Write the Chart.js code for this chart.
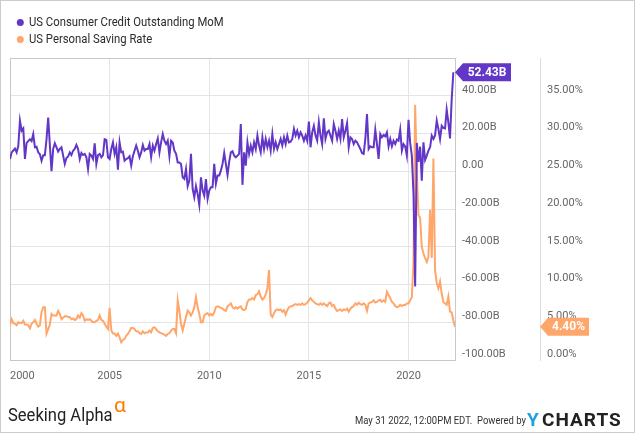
<!DOCTYPE html>
<html>
<head>
<meta charset="utf-8">
<title>US Consumer Credit Outstanding MoM vs US Personal Saving Rate</title>
<script src="https://cdn.jsdelivr.net/npm/chart.js@4.4.1/dist/chart.umd.min.js"></script>
<style>
  html, body { margin: 0; padding: 0; background: #fff; }
  #chart { display: block; }
</style>
</head>
<body>
<canvas id="chart" width="635" height="433"></canvas>
<script>
// ============================================
// DATA (monthly, first value is the Dec 1999 month-end)
// ============================================

const START_YEAR = 2000;
const yearTicks = [2000, 2005, 2010, 2015, 2020];

// Month-over-month change in consumer credit outstanding, billions USD
const creditMoM = [
    6.5,
    10, 11, 12, 10, 13.5, 26.8, 21.5, 22.7, 6.5, 15, 16, 17,                 // 2000
    16, 19.7, 12.7, 13, 10, 9, 5.6, 8.5, 8.5, 17, 28.5, 14,                   // 2001
    0, 11.8, 14.8, 12.7, 10.4, 11.8, 12.7, 8.3, 3.9, 7, 7.9, 10,              // 2002
    8.6, 10.9, 11.8, 14, 11.8, 6.5, 9.7, 8.6, 9.2, 7.4, 1.2, 9.2,             // 2003
    8.3, 6.5, 14.8, 3.9, 8.6, 9.2, 7.4, 8.6, 17, 16.6, 7.4, 6.5,              // 2004
    11.8, 15.3, 9.2, 12.7, 0.8, 15.3, 10, 10.4, 5.6, 6.5, 6.9, 7.9,           // 2005
    3, 7.9, 10.9, 13.6, 10.9, 7.4, 10, 13.9, 10.9, 11.8, 11.8, 14.4,          // 2006
    7.4, 13.6, 10.9, 14.4, 17.4, 10, 15.3, 19.7, 16.2, 14.4, 16.2, 7.9,       // 2007
    16.2, 15.3, 10.9, 9.2, 4.7, 4.7, 3.9, -3.2, -4.1, 1.2, -7.9, -5,          // 2008
    9.2, -9.3, -13.7, -7.9, -12, -17.8, -3.2, -10.2, -12.9, -4.1, -14.6, -10.2, // 2009
    -8.5, -8.5, 3.9, -6.7, -2.3, -2.3, 0.3, 3.9, 9.7, 3.9, -2, 5,             // 2010
    10, 10.6, 8.3, 7.4, 8.3, 9.2, 25, -7.2, 10, 3, 15.3, 9.2,                 // 2011
    13.6, 10, 15.3, 11.8, 18.9, 13.6, 10, 18, 11.8, 17.1, 12.7, 16.2,         // 2012
    10.9, 19.7, 11.8, 15.3, 11.8, 14.4, 17.1, 13.6, 18, 14.4, 18.9, 15.3,     // 2013
    15.7, 17.1, 22.4, 18.9, 21.5, 18, 20.6, 18.9, 16.2, 18.9, 16.2, 26.3,     // 2014
    12.7, 20.6, 24.1, 18.9, 16.2, 26, 18.9, 14.4, 28, 17.1, 20.6, 21.5,       // 2015
    18.9, 16.2, 25, 21.5, 17.1, 21.5, 17.1, 27.7, 18, 21.5, 25.5, 12.7,       // 2016
    18, 17.1, 14.4, 16.2, 15.3, 13.6, 11.8, 9.7, 9.2, 17.1, 30.3, 11.8,       // 2017
    13.2, 12.7, 12.7, 22, 14.4, 6.5, 19.7, 18, 19.2, 18.5, 20.6, 13.2,        // 2018
    17.1, 13.2, 16.2, 14.4, 16.8, 16.2, 22, 10.9, 14.4, 13.2, 8.3, 27.3,      // 2019
    15, 8.3, -12, -61, 15, 5, 13, -5, 15.3, 6, 8.3, 10.9,                     // 2020
    12.7, 18.9, 17.1, 19, 26.8, 22.4, 17.1, 24.1, 23, 22.7, 32.6, 25.9,       // 2021
    17.4, 38, 52.43                                                          // 2022
];

// Personal saving rate, percent
const savingRate = [
    4.6,
    5.4, 4.9, 4.8, 4.6, 5.0, 4.9, 4.9, 5.2, 4.7, 4.7, 4.6, 4.2,               // 2000
    4.8, 5.0, 5.3, 4.8, 4.4, 4.6, 6.3, 7.0, 7.0, 3.5, 4.1, 4.7,               // 2001
    6.1, 5.9, 5.9, 5.9, 6.5, 6.1, 5.4, 5.6, 5.8, 5.8, 5.7, 5.7,               // 2002
    5.4, 5.5, 5.3, 5.4, 5.9, 5.6, 6.2, 5.9, 5.2, 5.4, 5.3, 5.4,               // 2003
    5.2, 5.0, 5.0, 5.2, 5.3, 5.9, 5.3, 5.2, 4.8, 4.4, 4.1, 6.9,               // 2004
    3.9, 3.5, 3.5, 3.2, 3.5, 3.0, 2.35, 2.65, 2.8, 3.2, 3.45, 3.8,            // 2005
    4.25, 4.25, 4.1, 3.8, 3.8, 3.55, 3.45, 3.8, 3.55, 3.65, 3.65, 3.9,        // 2006
    3.65, 4.25, 4.35, 4.1, 3.8, 3.65, 3.55, 3.45, 3.35, 3.2, 3.45, 3.55,      // 2007
    3.9, 4.1, 4.1, 3.55, 7.9, 6.5, 4.8, 3.9, 4.8, 5.7, 6.55, 6.3,             // 2008
    5.9, 6.3, 7.0, 8.3, 7.0, 6.1, 5.0, 5.0, 5.9, 6.1, 6.2, 5.9,               // 2009
    6.1, 5.9, 6.3, 7.0, 7.1, 7.0, 6.9, 6.8, 6.6, 6.5, 7.1, 7.3,               // 2010
    7.5, 7.0, 6.8, 7.0, 6.8, 7.0, 7.1, 6.7, 6.6, 6.8, 7.7, 8.0,               // 2011
    8.0, 8.2, 8.0, 8.6, 8.7, 9.1, 8.4, 8.0, 8.2, 8.7, 9.5, 11.9,              // 2012
    6.0, 5.7, 6.2, 6.6, 6.7, 6.6, 6.7, 6.4, 6.6, 6.0, 6.6, 7.0,               // 2013
    7.1, 7.15, 7.3, 7.4, 7.3, 7.4, 7.3, 7.5, 7.3, 7.4, 7.6, 7.9,              // 2014
    8.2, 7.9, 7.7, 7.5, 7.4, 7.3, 7.5, 7.3, 7.5, 7.3, 7.15, 7.5,              // 2015
    7.6, 7.15, 7.3, 6.8, 6.5, 6.6, 6.7, 6.5, 6.7, 6.6, 6.8, 6.4,              // 2016
    6.8, 7.0, 7.15, 7.5, 7.3, 7.6, 7.4, 7.3, 7.5, 7.3, 6.5, 7.5,              // 2017
    7.6, 7.7, 7.9, 7.6, 7.7, 7.9, 7.95, 7.7, 7.9, 7.7, 9.05, 8.6,             // 2018
    8.2, 7.7, 7.5, 7.15, 7.0, 7.06, 7.3, 7.15, 7.3, 7.3, 7.5, 7.5,            // 2019
    7.9, 8.3, 12.8, 33.8, 24.9, 19.2, 18.8, 15, 14.1, 13.5, 13, 13.7,         // 2020
    19.9, 13.5, 26.7, 11.9, 10.2, 9.5, 10.4, 8.8, 7.7, 7.5, 7.3, 8.4,         // 2021
    6.4, 6.3, 5.3, 4.4                                                       // 2022
];

const seriesNames = ['US Consumer Credit Outstanding MoM', 'US Personal Saving Rate'];
const seriesColors = ['#6236c6', '#ffa66b'];

// ============================================
// HELPERS
// ============================================

const FONT = 'Roboto, "Liberation Sans", sans-serif';
const lastX = START_YEAR + (savingRate.length - 1) / 12;

function toPoints(values) {
    return values.map((v, i) => ({ x: START_YEAR + i / 12, y: v }));
}

function formatBillions(v) {
    if (v === 60) return '';
    if (v === 0) return '0.00';
    return v.toFixed(2) + 'B';
}

// Text squeezed horizontally to imitate the condensed face of the original
function drawText(ctx, text, x, y, font, color, scaleX, align) {
    ctx.save();
    ctx.translate(x, y);
    ctx.scale(scaleX, 1);
    ctx.font = font;
    ctx.fillStyle = color;
    ctx.textAlign = align || 'left';
    ctx.fillText(text, 0, 0);
    ctx.restore();
}

function drawTag(ctx, tipX, y, width, color, text) {
    const h = 18, arrow = 8;
    ctx.save();
    ctx.fillStyle = color;
    ctx.beginPath();
    ctx.moveTo(tipX, y);
    ctx.lineTo(tipX + arrow, y - h / 2);
    ctx.lineTo(tipX + width, y - h / 2);
    ctx.lineTo(tipX + width, y + h / 2);
    ctx.lineTo(tipX + arrow, y + h / 2);
    ctx.closePath();
    ctx.fill();
    ctx.fillStyle = '#ffffff';
    ctx.font = 'bold 12px ' + FONT;
    ctx.textAlign = 'center';
    ctx.textBaseline = 'middle';
    ctx.fillText(text, tipX + arrow + (width - arrow) / 2, y + 0.5);
    ctx.restore();
}

// ============================================
// PLUGINS
// ============================================

// Outer border, plot frame, legend, value tags and footer
const decorPlugin = {
    id: 'decor',
    beforeDatasetsDraw(chart) {
        const { ctx, chartArea: a } = chart;
        ctx.save();
        ctx.strokeStyle = '#c8c8c8';
        ctx.lineWidth = 1;
        ctx.strokeRect(Math.round(a.left) + 0.5, Math.round(a.top) + 0.5,
            Math.round(a.right - a.left), Math.round(a.bottom - a.top));
        ctx.restore();
    },
    afterDatasetsDraw(chart) {
        const { ctx, chartArea: a, scales } = chart;
        const lastCredit = creditMoM[creditMoM.length - 1];
        const lastSaving = savingRate[savingRate.length - 1];
        drawTag(ctx, a.right, scales.yB.getPixelForValue(lastCredit), 56,
            seriesColors[0], lastCredit.toFixed(2) + 'B');
        drawTag(ctx, scales.yP.left, scales.yP.getPixelForValue(lastSaving), 49,
            seriesColors[1], lastSaving.toFixed(2) + '%');
    },
    afterDraw(chart) {
        const { ctx, width, height } = chart;
        ctx.save();
        ctx.strokeStyle = '#cccccc';
        ctx.strokeRect(0.5, 0.5, width - 1, height - 1);

        // legend
        ctx.textBaseline = 'middle';
        seriesNames.forEach((name, i) => {
            const y = 22.5 + i * 17;
            ctx.fillStyle = seriesColors[i];
            ctx.beginPath();
            ctx.arc(20.3, y, 3.5, 0, Math.PI * 2);
            ctx.fill();
            drawText(ctx, name, 29, y + 0.5, '13px ' + FONT, '#2b2b2b', 0.87);
        });

        // footer
        ctx.textBaseline = 'alphabetic';
        drawText(ctx, 'Seeking Alpha', 8, 421, '18px ' + FONT, '#222222', 0.92);
        drawText(ctx, '\u03B1', 114, 412, '21px ' + FONT, '#ff7a00', 1);
        drawText(ctx, 'May 31 2022, 12:00PM EDT.  Powered by', 526, 423.5,
            '11px ' + FONT, '#333333', 0.86, 'right');

        ctx.font = 'bold 19px ' + FONT;
        ctx.textAlign = 'left';
        ctx.fillStyle = '#1e9fe0';
        ctx.fillText('Y', 527, 426);
        ctx.fillStyle = '#222222';
        if ('letterSpacing' in ctx) ctx.letterSpacing = '1px';
        ctx.fillText('CHARTS', 542, 426);
        ctx.restore();
    }
};

// ============================================
// CHART
// ============================================

const tickFont = { family: FONT, size: 11 };
const gridColor = '#e4e4e4';

new Chart(document.getElementById('chart'), {
    type: 'line',
    data: {
        datasets: [
            {
                label: seriesNames[0],
                data: toPoints(creditMoM),
                yAxisID: 'yB',
                borderColor: seriesColors[0],
                borderWidth: 2,
                pointRadius: 0,
                tension: 0
            },
            {
                label: seriesNames[1],
                data: toPoints(savingRate),
                yAxisID: 'yP',
                borderColor: seriesColors[1],
                borderWidth: 2,
                pointRadius: 0,
                tension: 0
            }
        ]
    },
    options: {
        responsive: false,
        animation: false,
        devicePixelRatio: 1,
        layout: { padding: { left: 10, right: 10, top: 58, bottom: 0 } },
        plugins: {
            legend: { display: false },
            tooltip: { enabled: false }
        },
        scales: {
            x: {
                type: 'linear',
                min: START_YEAR,
                max: lastX,
                afterBuildTicks: (scale) => {
                    scale.ticks = yearTicks.concat([lastX]).map(v => ({ value: v }));
                },
                afterFit: (scale) => { scale.height = 73; },
                grid: { color: gridColor, drawTicks: false },
                border: { display: false },
                ticks: {
                    align: 'inner',
                    padding: 10,
                    maxRotation: 0,
                    autoSkip: false,
                    color: '#666666',
                    font: tickFont,
                    callback: (v) => yearTicks.includes(v) ? String(v) : ''
                }
            },
            yB: {
                position: 'right',
                weight: 0,
                min: -100,
                max: 60,
                afterFit: (scale) => { scale.width = 85; },
                grid: { color: gridColor, drawTicks: false },
                border: { display: false },
                ticks: {
                    stepSize: 20,
                    padding: 7,
                    labelOffset: -6,
                    color: '#666666',
                    font: tickFont,
                    callback: formatBillions
                }
            },
            yP: {
                position: 'right',
                weight: 1,
                min: 0,
                max: 40,
                afterFit: (scale) => { scale.width = 85; },
                grid: { drawOnChartArea: false, drawTicks: false },
                border: { display: true, color: '#dddddd' },
                ticks: {
                    stepSize: 5,
                    padding: 7,
                    labelOffset: -6,
                    color: '#666666',
                    font: tickFont,
                    callback: (v) => v === 40 ? '' : v.toFixed(2) + '%'
                }
            }
        }
    },
    plugins: [decorPlugin]
});
</script>
</body>
</html>
